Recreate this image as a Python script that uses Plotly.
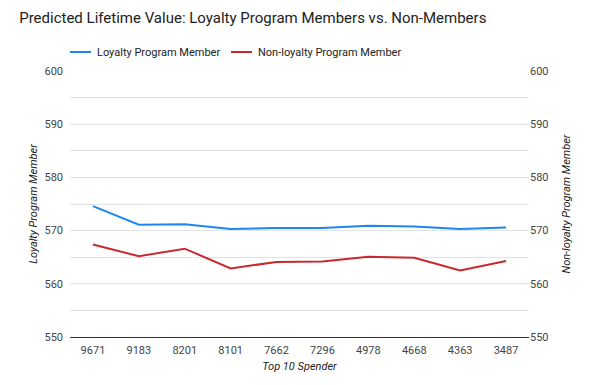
import plotly.graph_objects as go

categories = ["9671", "9183", "8201", "8101", "7662", "7296", "4978", "4668", "4363", "3487"]
loyalty = [574.6, 571.1, 571.2, 570.3, 570.5, 570.5, 570.9, 570.75, 570.3, 570.6]
non_loyalty = [567.4, 565.2, 566.6, 562.9, 564.1, 564.2, 565.1, 564.9, 562.5, 564.3]
y_ticks = [550, 560, 570, 580, 590, 600]

BLUE = "#1f86f0"
RED = "#c8282e"
FONT = "Roboto"

fig = go.Figure()
fig.add_trace(go.Scatter(x=categories, y=loyalty, mode="lines", name="Loyalty Program Member",
                         line=dict(color=BLUE, width=2), yaxis="y"))
fig.add_trace(go.Scatter(x=categories, y=non_loyalty, mode="lines", name="Non-loyalty Program Member",
                         line=dict(color=RED, width=2), yaxis="y2"))

grid = "#e3e3e3"
axis_common = dict(range=[550, 600], tickvals=y_ticks, ticks="", showline=False,
                   tickfont=dict(family=FONT, size=11, color="#444"),
                   zeroline=False, automargin=False)

fig.update_layout(
    width=600, height=385,
    margin=dict(l=70, r=71, t=71, b=48, autoexpand=False),
    paper_bgcolor="white", plot_bgcolor="white",
    showlegend=False,
    title=dict(text="Predicted Lifetime Value: Loyalty Program Members vs. Non-Members",
               x=0.032, xanchor="left", y=0.955, yanchor="middle", pad=dict(l=0, r=0, t=0, b=0),
               font=dict(family=FONT, size=15, color="#222")),
    xaxis=dict(type="category", range=[-0.5, 9.5], showgrid=False, showline=True, linecolor="#333",
               linewidth=1, automargin=False, ticklabelstandoff=3,
               ticks="", tickfont=dict(family=FONT, size=11, color="#444"),
               title=dict(text="<i>Top 10 Spender</i>", standoff=6,
                          font=dict(family=FONT, size=11, color="#222"))),
    yaxis=dict(**axis_common, showgrid=True, gridcolor=grid, gridwidth=1, ticklabelstandoff=6,
               minor=dict(dtick=5, tick0=550, showgrid=True, gridcolor=grid, gridwidth=1),
               title=dict(text="<i>Loyalty Program Member</i>", standoff=4,
                          font=dict(family=FONT, size=11, color="#222"))),
    yaxis2=dict(**axis_common, overlaying="y", side="right", showgrid=False,
                title=dict(text="<i>Non-loyalty Program Member</i>", standoff=14,
                           font=dict(family=FONT, size=11, color="#222"))),
)

# custom legend
pw = 600 - 70 - 71
def px(x):
    return (x - 70) / pw
ph = 385 - 71 - 48
ly = (385 - 48 - 52) / ph
legend_items = [("Loyalty Program Member", BLUE, 70), ("Non-loyalty Program Member", RED, 231)]
for name, color, x0 in legend_items:
    fig.add_shape(type="line", xref="paper", yref="paper", x0=px(x0), x1=px(x0 + 21), y0=ly, y1=ly,
                  line=dict(color=color, width=2))
    fig.add_annotation(xref="paper", yref="paper", x=px(x0 + 25), y=ly, text=name, showarrow=False,
                       xanchor="left", yanchor="middle",
                       font=dict(family=FONT, size=11, color="#222"))

fig.write_html("out.html", config={"displayModeBar": False},
               post_script="document.body.style.margin='0';")
